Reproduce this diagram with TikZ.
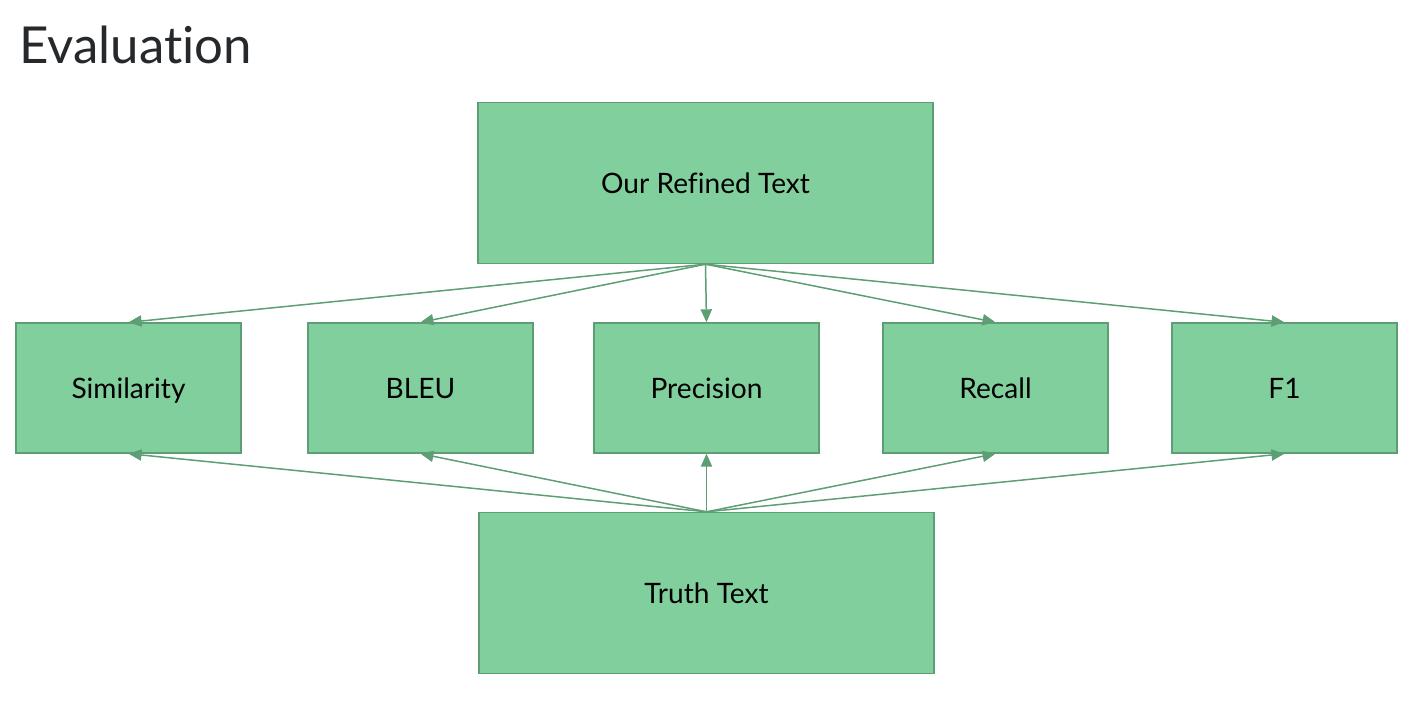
\documentclass[tikz,border=0pt]{standalone}
\usepackage{fontspec}
\setmainfont{Lato}[Ligatures=NoCommon]
\usetikzlibrary{positioning,calc,arrows.meta}
\definecolor{boxfill}{HTML}{82CF9E}
\definecolor{boxline}{HTML}{5E9E75}
\definecolor{titlegray}{HTML}{25292C}

\begin{document}
\begin{tikzpicture}[x=0.02cm, y=-0.02cm]
	\useasboundingbox (0,0) rectangle (1426,704);
	\begin{scope}
		\tikzstyle{every node}=[align=center, inner sep=0.2em]
		\tikzstyle{metric}=[draw=boxline, line width=0.8pt, fill=boxfill, minimum width=4.5cm, minimum height=2.6cm, text height=12.4pt, text depth=0pt, font=\fontsize{16}{18}\selectfont]
		\tikzstyle{source}=[metric, minimum width=9.1cm, minimum height=3.22cm]
		\tikzstyle{link}=[boxline, line width=0.85pt, -{Triangle[length=7.4pt, width=6.4pt]}]

		\node[anchor=base west, text=titlegray, inner sep=0, font=\fontsize{29}{32}\selectfont] (title) at (19,63) {Evaluation};

		\node[source] (ref)   at (705.5, 183) {Our Refined Text};

		\node[metric] (sim)  at (128.5, 388) {Similarity};
		\node[metric] (bleu) at (420.5, 388) {BLEU};
		\node[metric] (prec) at (706.5, 388) {Precision};
		\node[metric] (rec)  at (995.5, 388) {Recall};
		\node[metric] (fone) at (1284.5, 388) {F1};

		\node[source] (truth) at (706.5, 593) {Truth Text};


		\draw [link] (ref.south) to (sim.north);
		\draw [link] (ref.south) to (bleu.north);
		\draw [link] (ref.south) to (prec.north);
		\draw [link] (ref.south) to (rec.north);
		\draw [link] (ref.south) to (fone.north);

		\draw [link] (truth.north) to (sim.south);
		\draw [link] (truth.north) to (bleu.south);
		\draw [link] (truth.north) to (prec.south);
		\draw [link] (truth.north) to (rec.south);
		\draw [link] (truth.north) to (fone.south);

	\end{scope}
\end{tikzpicture}
\end{document}
